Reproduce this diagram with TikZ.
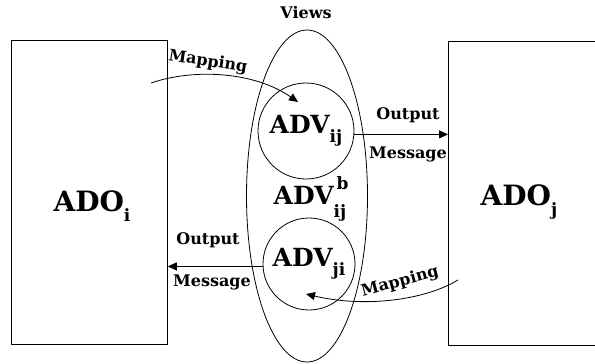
\documentclass[tikz,border=0pt]{standalone}
\usepackage{fontspec}
\setmainfont{DejaVu Serif}
\usetikzlibrary{arrows.meta,shapes.geometric}
% lowered index set in a smaller size
\newcommand\idx[2][0.36em]{\raisebox{-#1}{\fontsize{17}{18}\selectfont #2}}
\begin{document}
\begin{tikzpicture}[x=1pt,y=-1pt,line width=0.8pt,
  big/.style={font=\fontsize{28}{32}\selectfont\bfseries,inner sep=0pt},
  lbl/.style={font=\fontsize{16}{18}\selectfont\bfseries,inner sep=0pt},
  objbox/.style={draw,rectangle,anchor=north west,inner sep=0pt},
  viewcirc/.style={draw,circle,inner sep=0pt,font=\fontsize{25}{30}\selectfont\bfseries},
  tip/.style={-{Triangle[length=9pt,width=8pt]}}]
\useasboundingbox (0,0) rectangle (595,364);
\clip (0,0) rectangle (595,364);

% the two data objects
\node[objbox,minimum width=156pt,minimum height=304pt] (adoi) at (11,40) {};
\node[objbox,minimum width=170pt,minimum height=304pt] (adoj) at (448,41) {};
\node[big] (adoilbl) at (92,206) {ADO\idx{i}};
\node[big] (adojlbl) at (519,202) {ADO\idx{j}};

% the view container and the two views inside it
\node[draw,ellipse,inner sep=0pt,minimum width=121pt,minimum height=332pt] (views) at (307,196) {};
\node[font=\fontsize{16}{18}\selectfont\bfseries,inner sep=0pt] (viewslbl) at (306,13) {Views};
\node[viewcirc,minimum size=96pt] (advij) at (306,131) {ADV\idx{ij}};
\node[viewcirc,minimum size=92pt] (advji) at (309,264) {ADV\idx{ji}};
\node[big,font=\fontsize{25}{30}\selectfont\bfseries] (advb) at (310,199)
  {ADV\rlap{\raisebox{0.6em}{\fontsize{17}{18}\selectfont\,b}}\idx[0.5em]{ij}};

% output messages
\draw[tip] (advij.-4) -- (advij.-4 -| adoj.west);
\draw[tip] (advji.183) -- (advji.183 -| adoi.east);
\node[lbl] (out1) at (408,115) {Output};
\node[lbl] (msg1) at (408,154) {Message};
\node[lbl] (out2) at (208,240) {Output};
\node[lbl] (msg2) at (212,282) {Message};

% mappings from objects to views
\coordinate (m1s) at (151,83);
\coordinate (m1e) at (298,102);
\draw[tip] (m1s) .. controls (195,68) and (255,72) .. (m1e);
\node[lbl,rotate=-9] (map1) at (208,62) {Mapping};
\coordinate (m2s) at (458,280);
\coordinate (m2e) at (306,294);
\draw[tip] (m2s) .. controls (425,300) and (365,308) .. (m2e);
\node[lbl,rotate=15] (map2) at (400,282) {Mapping};
\end{tikzpicture}
\end{document}
